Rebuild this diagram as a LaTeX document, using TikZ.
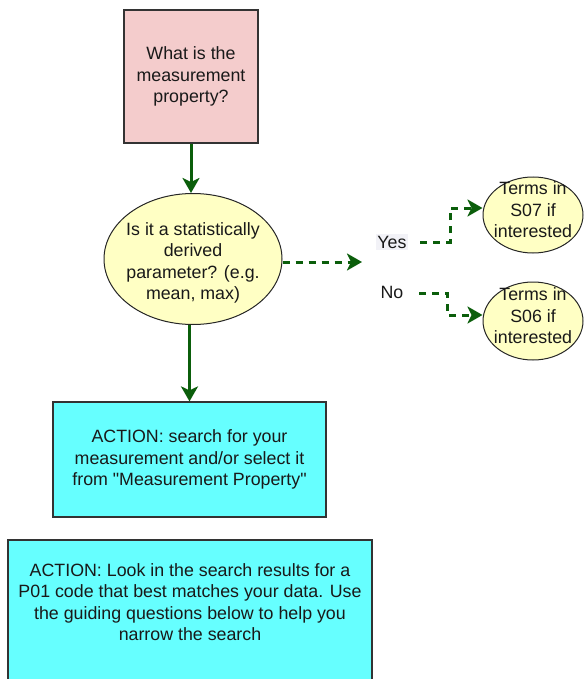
\documentclass[tikz,border=0pt]{standalone}
\usepackage{fontspec}
\setmainfont{Liberation Sans}
\newfontfamily\rawfont{Liberation Sans}
\usetikzlibrary{shapes.geometric,arrows.meta}
\definecolor{qpink}{HTML}{F4CCCC}
\definecolor{qyellow}{HTML}{FFFFC4}
\definecolor{acyan}{HTML}{66FFFF}
\definecolor{flowgreen}{HTML}{0B5E0B}
\definecolor{edgegray}{HTML}{333333}
\definecolor{labelbg}{HTML}{F2F2F7}
\newcommand{\straightquote}{{\rawfont\symbol{34}}}
\tikzset{
  txt/.style={font=\fontsize{17.8}{21.5}\selectfont, align=center, text=black!90},
  qbox/.style={txt, draw=edgegray, line width=1.2pt, fill=qpink, minimum width=134pt, minimum height=133pt, inner sep=0pt},
  qoval/.style={ellipse, draw=black!85, line width=1pt, fill=qyellow, inner sep=0pt},
  abox/.style={draw=edgegray, line width=1.2pt, fill=acyan},
  flow/.style={draw=flowgreen, line width=3pt, -{Stealth[length=15pt,width=17pt,inset=4pt]}},
  dflow/.style={flow, dash pattern=on 7pt off 6pt},
  lbl/.style={txt, inner sep=1.5pt}
}
\begin{document}
\begin{tikzpicture}[x=1pt,y=-1pt]
\useasboundingbox (0,0) rectangle (587,679);
\clip (0,0) rectangle (587,679);

% question boxes
\node[qbox] (q1) at (191,76.5) {What is the\\measurement\\property?};
\node[qoval, minimum width=178pt, minimum height=131pt,
  label={[txt,yshift=-4pt]center:{Is it a statistically\\derived\\parameter? (e.g.\\mean, max)}}] (q2) at (193,259) {};

% answer labels
\node[lbl, fill=labelbg] (yes) at (392,242) {Yes};
\node[lbl] (no) at (392,292) {No};
\coordinate (split) at (362,262);

% outcome ovals
\node[qoval, minimum width=100pt, minimum height=76pt,
  label={[txt,yshift=5pt]center:{Terms in\\S07 if\\interested}}] (s07) at (533,215) {};
\node[qoval, minimum width=100pt, minimum height=78pt,
  label={[txt,yshift=5pt]center:{Terms in\\S06 if\\interested}}] (s06) at (533,321) {};

% action boxes
\node[txt, abox, minimum width=273pt, minimum height=115pt, inner sep=0pt] (a1) at (189.5,459.5)
  {ACTION: search for your\\measurement and/or select it\\from \straightquote Measurement Property\straightquote};
\draw[abox] (8,540) rectangle (372,700);
\node[txt] (a2) at (190,602)
  {ACTION: Look in the search results for a\\P01 code that best matches your data. Use\\the guiding questions below to help you\\narrow the search};

% connectors
\draw[flow] (q1.south) -- (q1.south |- q2.north);
\draw[flow] (a1.north |- q2.south) -- (a1.north);
\draw[dflow] (q2.east |- split) -- (split);
\draw[dflow] ([xshift=12pt]yes.east) -- ++(30,0) |- ([yshift=7pt]s07.west);
\draw[dflow] ([xshift=14pt]no.east |- 0,293) -- ++(28,0) |- ([yshift=6pt]s06.west);
\end{tikzpicture}
\end{document}
